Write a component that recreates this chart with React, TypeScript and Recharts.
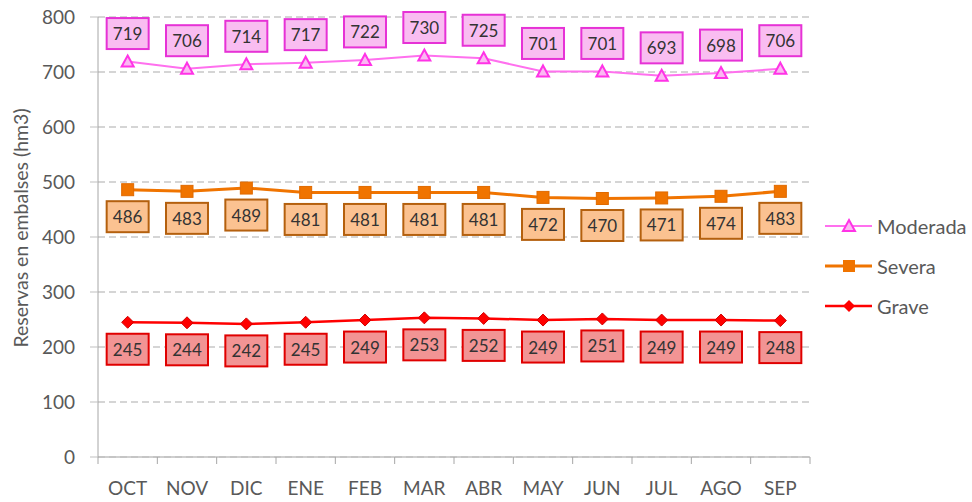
import { LineChart, Line, XAxis, YAxis, CartesianGrid, LabelList } from "recharts";

const months = ["OCT", "NOV", "DIC", "ENE", "FEB", "MAR", "ABR", "MAY", "JUN", "JUL", "AGO", "SEP"];
const moderada = [719, 706, 714, 717, 722, 730, 725, 701, 701, 693, 698, 706];
const severa = [486, 483, 489, 481, 481, 481, 481, 472, 470, 471, 474, 483];
const grave = [245, 244, 242, 245, 249, 253, 252, 249, 251, 249, 249, 248];
const yTicks = [0, 100, 200, 300, 400, 500, 600, 700, 800];

const data = months.map((m, i) => ({
  month: m,
  moderada: moderada[i],
  severa: severa[i],
  grave: grave[i],
}));

const FONT = "Lato, 'Open Sans', sans-serif";
const TEXT = "#595959";
const BAND = 712 / 12;

const series = [
  { key: "moderada", name: "Moderada", line: "#ff70ee", width: 2, boxFill: "#f9bdf1", boxStroke: "#e632d6", dy: -28 },
  { key: "severa", name: "Severa", line: "#f07400", width: 3, boxFill: "#fbc291", boxStroke: "#b4600e", dy: 27 },
  { key: "grave", name: "Grave", line: "#ff0000", width: 2.5, boxFill: "#f29494", boxStroke: "#e00000", dy: 27 },
];

function boxLabel(fill: string, stroke: string, dy: number) {
  return (props: any) => {
    const { x, y, value } = props;
    const cy = y + dy;
    return (
      <g>
        <rect x={x - 21} y={cy - 15.5} width={42} height={31} fill={fill} stroke={stroke} strokeWidth={2} />
        <text x={x} y={cy} textAnchor="middle" dominantBaseline="central" fontSize={17} fontFamily={FONT} fill="#333">
          {value}
        </text>
      </g>
    );
  };
}

function Triangle(props: any) {
  const { cx, cy } = props;
  return <path d={`M${cx},${cy - 6} L${cx + 6},${cy + 5} L${cx - 6},${cy + 5} Z`} fill="#fbb8f2" stroke="#ff33e6" strokeWidth={2} />;
}
function Square(props: any) {
  const { cx, cy } = props;
  return <rect x={cx - 6} y={cy - 6} width={12} height={12} fill="#f07400" stroke="#e06a00" strokeWidth={1} />;
}
function Diamond(props: any) {
  const { cx, cy } = props;
  return <path d={`M${cx},${cy - 6} L${cx + 6},${cy} L${cx},${cy + 6} L${cx - 6},${cy} Z`} fill="#ff0000" stroke="#d00000" strokeWidth={1} />;
}

function XTick(props: any) {
  const { x, payload, index } = props;
  const last = index === months.length - 1;
  const base = 457;
  return (
    <g>
      <line x1={x - BAND / 2} y1={base} x2={x - BAND / 2} y2={base + 7} stroke="#a6a6a6" />
      {last && <line x1={x + BAND / 2} y1={base} x2={x + BAND / 2} y2={base + 7} stroke="#a6a6a6" />}
      <text x={x} y={495} textAnchor="middle" fontSize={19} fontFamily={FONT} fill={TEXT}>
        {payload.value}
      </text>
    </g>
  );
}

function Overlay() {
  const markers = [
    <path key="t" d="M849,220 L855,231 L843,231 Z" fill="#fbb8f2" stroke="#ff33e6" strokeWidth={2} />,
    <rect key="s" x={843} y={260} width={12} height={12} fill="#f07400" />,
    <path key="d" d="M849,300 L855,306 L849,312 L843,306 Z" fill="#ff0000" />,
  ];
  return (
    <svg width={972} height={502} style={{ position: "absolute", left: 0, top: 0, pointerEvents: "none" }}>
      <text
        x={20}
        y={228}
        transform="rotate(-90 20 228)"
        textAnchor="middle"
        dominantBaseline="central"
        fontSize={19.5}
        fontFamily={FONT}
        fill={TEXT}
      >
        Reservas en embalses (hm3)
      </text>
      {series.map((s, i) => {
        const y = 226 + i * 40;
        return (
          <g key={s.key}>
            <line x1={825} y1={y} x2={872} y2={y} stroke={s.line} strokeWidth={s.width} />
            {markers[i]}
            <text x={877} y={y} dominantBaseline="central" fontSize={20} fontFamily={FONT} fill={TEXT}>
              {s.name}
            </text>
          </g>
        );
      })}
    </svg>
  );
}

export default function App() {
  const shapes = [Triangle, Square, Diamond];
  return (
    <div style={{ position: "absolute", left: 0, top: 0, width: 972, height: 502, background: "#fff" }}>
      <LineChart width={972} height={502} data={data} margin={{ top: 17, right: 162, bottom: 15, left: 38 }}>
        <CartesianGrid vertical={false} stroke="#c8c8c8" strokeDasharray="7 4" strokeWidth={1.5} />
        <XAxis
          dataKey="month"
          height={30}
          padding={{ left: BAND / 2, right: BAND / 2 }}
          axisLine={{ stroke: "#bfbfbf", strokeWidth: 1.5 }}
          tickLine={false}
          tick={<XTick />}
          interval={0}
        />
        <YAxis
          width={60}
          domain={[0, 800]}
          ticks={yTicks}
          interval={0}
          axisLine={{ stroke: "#a6a6a6" }}
          tickLine={{ stroke: "#bfbfbf" }}
          tickSize={8}
          tickMargin={15}
          tick={{ fontSize: 19, fontFamily: FONT, fill: TEXT }}
        />
        {series.map((s, i) => {
          const Shape = shapes[i];
          return (
            <Line
              key={s.key}
              dataKey={s.key}
              name={s.name}
              stroke={s.line}
              strokeWidth={s.width}
              dot={<Shape />}
              activeDot={false}
              isAnimationActive={false}
            >
              <LabelList dataKey={s.key} content={boxLabel(s.boxFill, s.boxStroke, s.dy)} />
            </Line>
          );
        })}
      </LineChart>
      <Overlay />
    </div>
  );
}
